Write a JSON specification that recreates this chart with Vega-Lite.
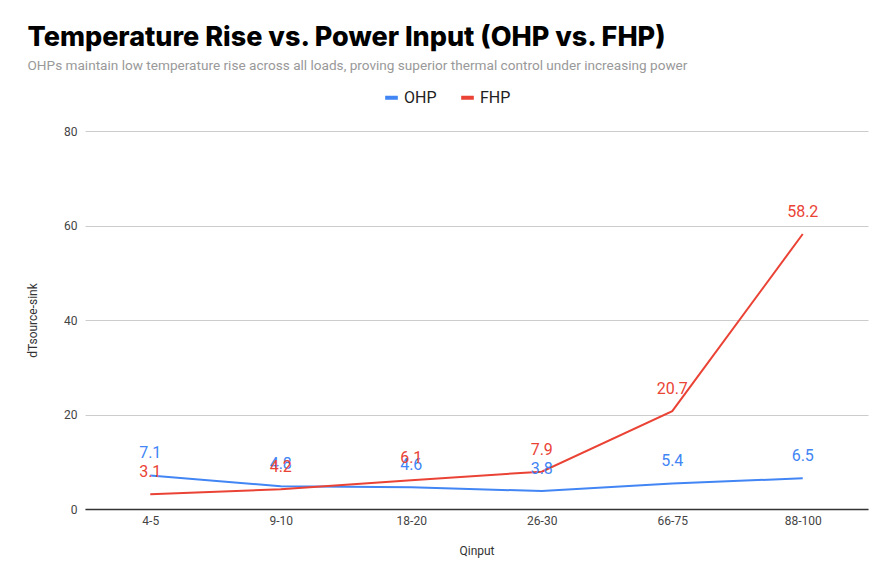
{
  "$schema": "https://vega.github.io/schema/vega-lite/v6.json",
  "autosize": {"type": "fit", "contains": "padding"},
  "width": 894,
  "height": 586,
  "padding": {"left": 26, "right": 26, "top": 24, "bottom": 30},
  "background": "white",
  "title": {
    "text": "Temperature Rise vs. Power Input (OHP vs. FHP)",
    "subtitle": "OHPs maintain low temperature rise across all loads, proving superior thermal control under increasing power",
    "anchor": "start",
    "font": "Inter",
    "fontSize": 27,
    "fontWeight": 800,
    "color": "#000000",
    "subtitleFont": "Roboto",
    "subtitleFontSize": 13.6,
    "subtitleColor": "#999999",
    "subtitlePadding": 7,
    "offset": 51,
    "dx": 1
  },
  "config": {
    "view": {"stroke": null},
    "font": "Roboto"
  },
  "data": {
    "values": [
      {"Qinput": "4-5", "series": "OHP", "value": 7.1},
      {"Qinput": "9-10", "series": "OHP", "value": 4.8},
      {"Qinput": "18-20", "series": "OHP", "value": 4.6},
      {"Qinput": "26-30", "series": "OHP", "value": 3.8},
      {"Qinput": "66-75", "series": "OHP", "value": 5.4},
      {"Qinput": "88-100", "series": "OHP", "value": 6.5},
      {"Qinput": "4-5", "series": "FHP", "value": 3.1},
      {"Qinput": "9-10", "series": "FHP", "value": 4.2},
      {"Qinput": "18-20", "series": "FHP", "value": 6.1},
      {"Qinput": "26-30", "series": "FHP", "value": 7.9},
      {"Qinput": "66-75", "series": "FHP", "value": 20.7},
      {"Qinput": "88-100", "series": "FHP", "value": 58.2}
    ]
  },
  "encoding": {
    "x": {
      "field": "Qinput",
      "type": "ordinal",
      "sort": null,
      "scale": {"type": "point", "padding": 0.5},
      "axis": {
        "title": "Qinput",
        "titleFont": "Roboto",
        "titleFontSize": 12,
        "titleFontWeight": "normal",
        "titleColor": "#333333",
        "titlePadding": 19,
        "labelAngle": 0,
        "labelFont": "Roboto",
        "labelFontSize": 12,
        "labelColor": "#444444",
        "labelPadding": 6,
        "domainColor": "#333333",
        "domainWidth": 1.5,
        "ticks": false,
        "grid": false
      }
    },
    "y": {
      "field": "value",
      "type": "quantitative",
      "scale": {"domain": [0, 80]},
      "axis": {
        "title": "dTsource-sink",
        "titleFont": "Roboto",
        "titleFontSize": 12,
        "titleFontWeight": "normal",
        "titleColor": "#333333",
        "titlePadding": 24,
        "values": [0, 20, 40, 60, 80],
        "labelFont": "Roboto",
        "labelFontSize": 12,
        "labelColor": "#444444",
        "labelPadding": 8,
        "domain": false,
        "ticks": false,
        "gridColor": "#cccccc"
      }
    },
    "color": {
      "field": "series",
      "type": "nominal",
      "sort": ["OHP", "FHP"],
      "scale": {"domain": ["OHP", "FHP"], "range": ["#4285f4", "#ea4335"]},
      "legend": {
        "title": null,
        "orient": "none",
        "legendX": 298,
        "legendY": -42,
        "direction": "horizontal",
        "symbolType": "stroke",
        "symbolStrokeWidth": 4,
        "symbolSize": 160,
        "labelFont": "Roboto",
        "labelFontSize": 16,
        "labelColor": "#222222",
        "columnPadding": 16
      }
    }
  },
  "layer": [
    {
      "mark": {"type": "line", "strokeWidth": 2},
      "encoding": {"detail": {"field": "series"}}
    },
    {
      "mark": {"type": "text", "dy": -22, "fontSize": 16, "font": "Roboto"},
      "encoding": {"text": {"field": "value", "type": "quantitative", "format": ".1f"}}
    }
  ]
}
